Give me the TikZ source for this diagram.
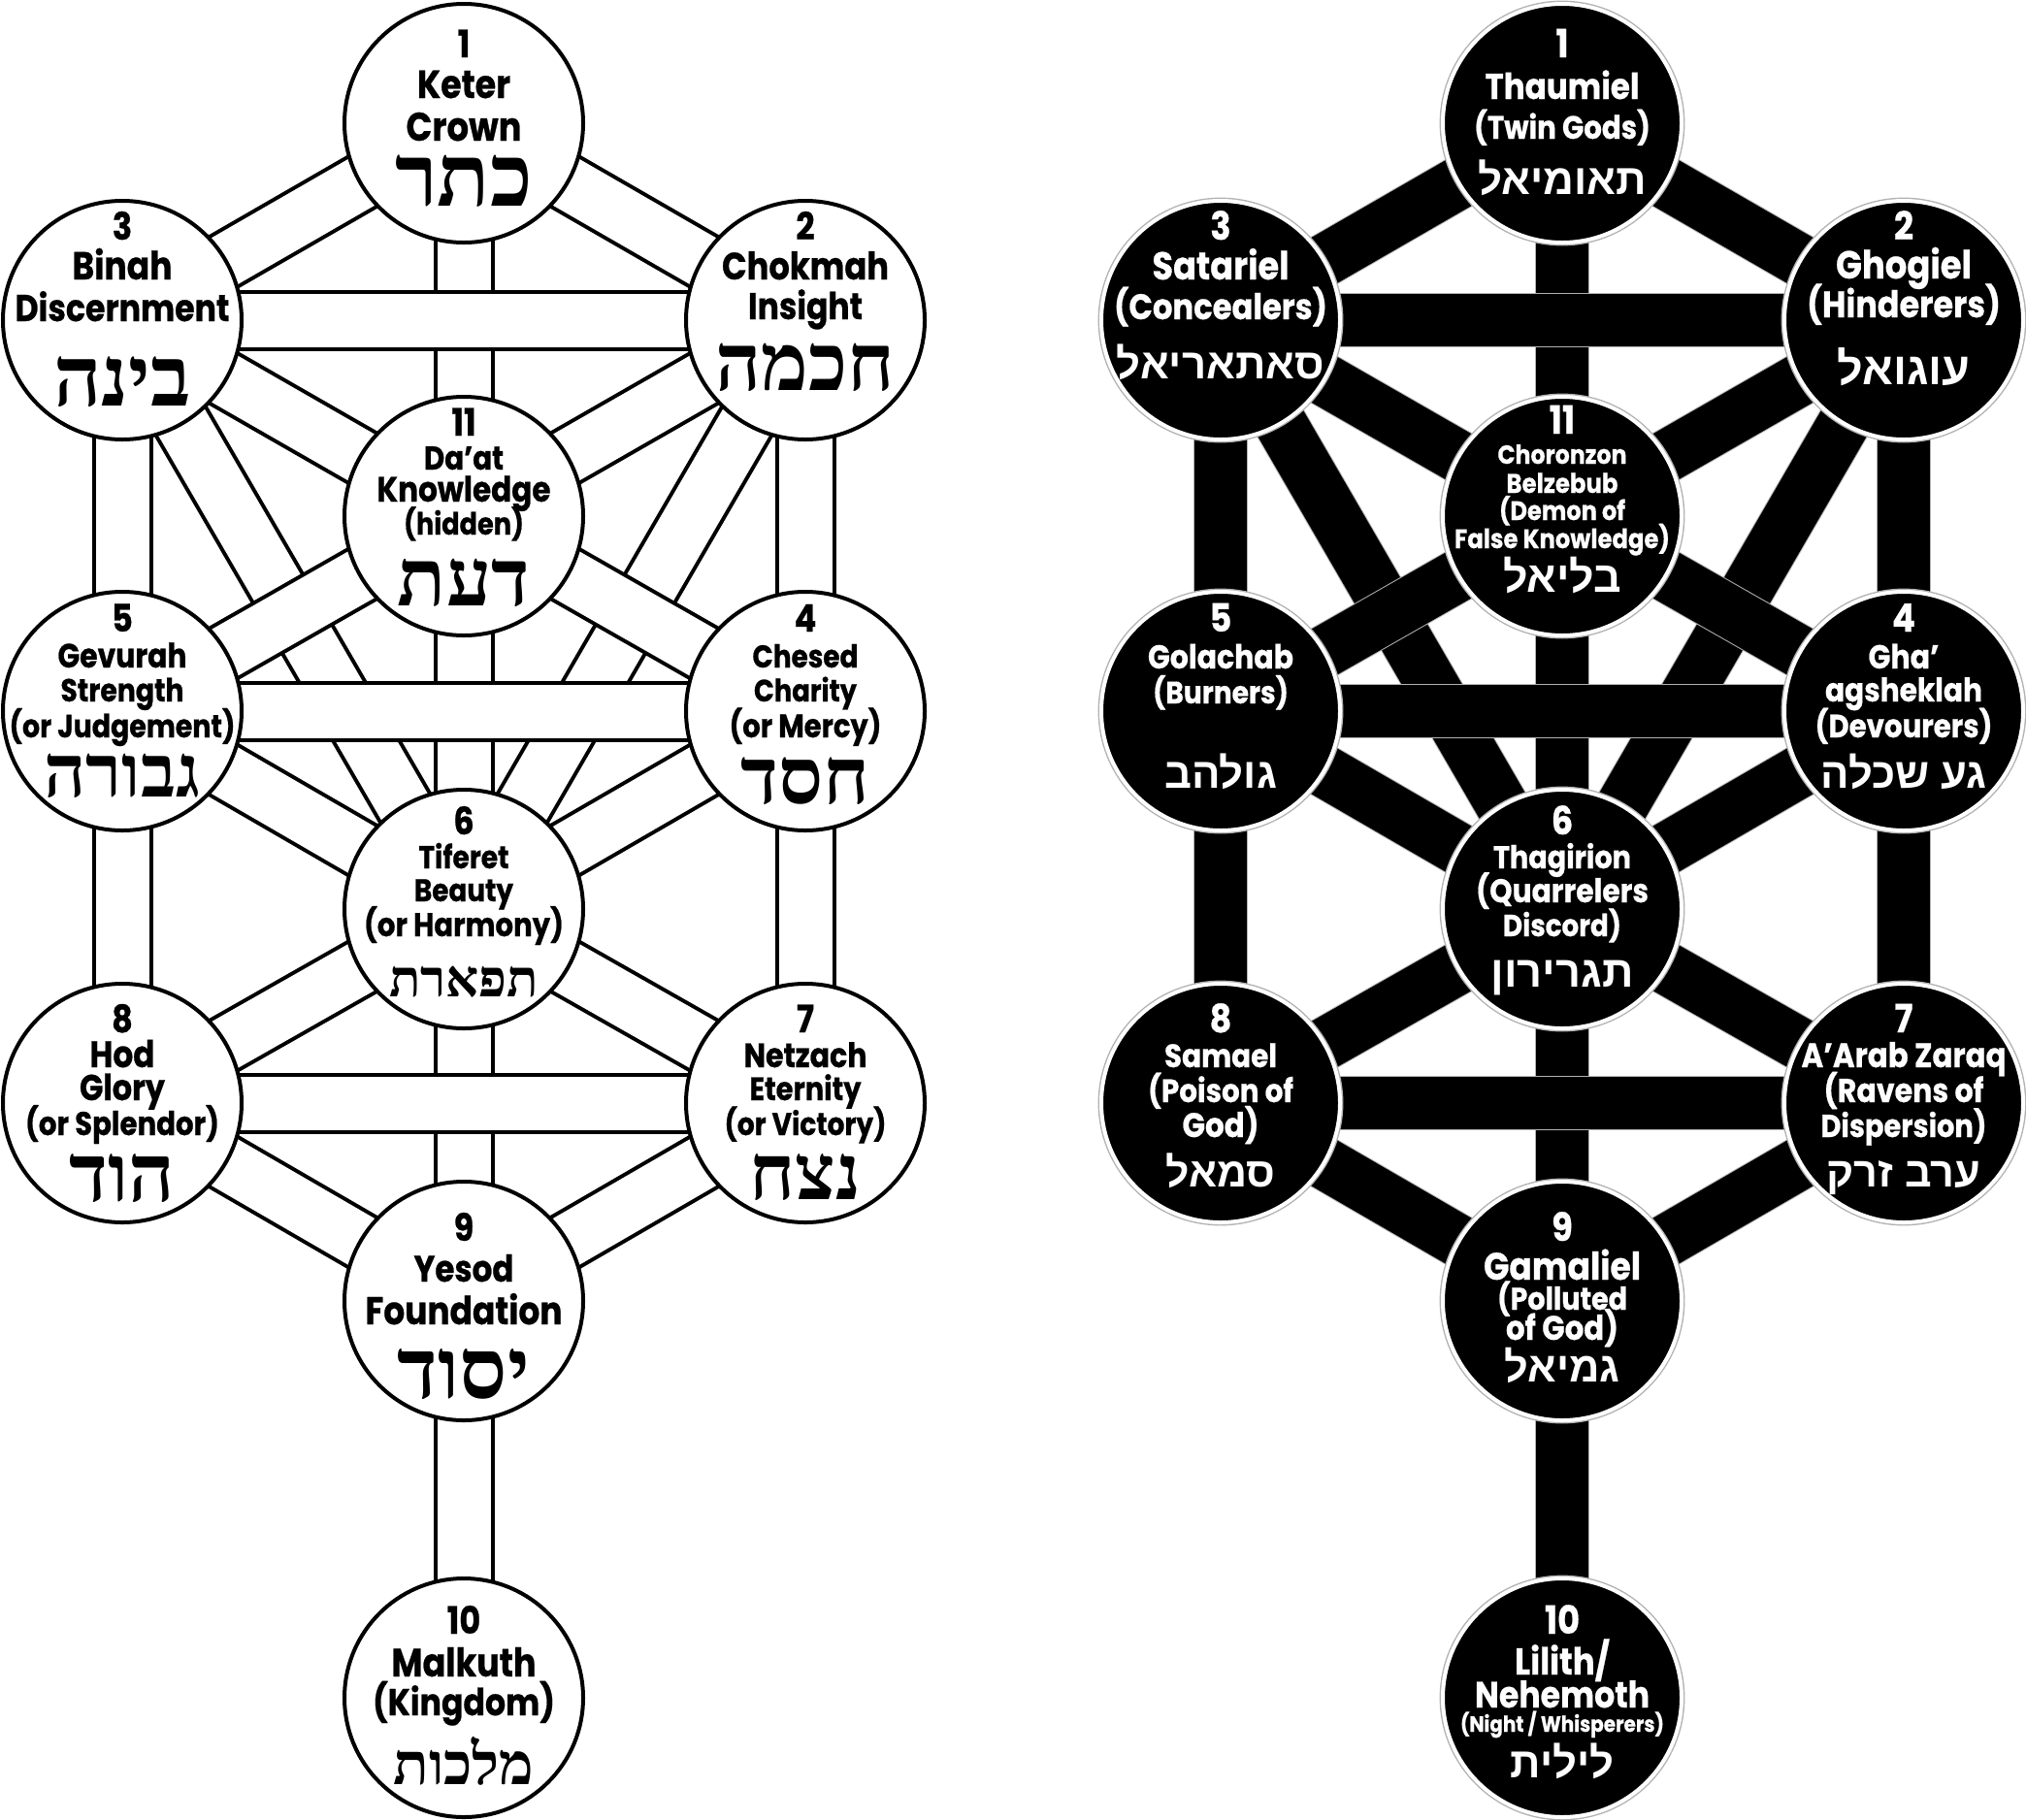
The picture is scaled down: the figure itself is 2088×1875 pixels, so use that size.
\documentclass[tikz,border=0pt]{standalone}
\usepackage{graphicx}
\usepackage{fontspec}
\setmainfont{Poppins}
\newfontfamily\lfont{Poppins}[FakeStretch=0.86, BoldFeatures={FakeBold=0.6}]
\newfontfamily\rfont{Poppins}[FakeStretch=0.88, BoldFeatures={FakeBold=0.6}]
\newfontfamily\hebserif{Liberation Serif}[Script=Hebrew]
\newfontfamily\hebsans{Liberation Sans}[Script=Hebrew]
\TeXXeTstate=1
\newlength\pxu \setlength\pxu{0.5pt}
\newcommand\LW[2]{\resizebox{#1\pxu}{!}{\lfont\bfseries #2}}
\newcommand\LN[1]{{\lfont\bfseries\fontsize{19.5pt}{19.5pt}\selectfont #1}}
\newcommand\LH[2]{\resizebox{#1\pxu}{!}{\hebserif\bfseries #2}}
\newcommand\RW[2]{\resizebox{#1\pxu}{!}{\rfont\bfseries #2}}
\newcommand\RN[1]{{\rfont\bfseries\fontsize{20pt}{20pt}\selectfont #1}}
\newcommand\RH[2]{\resizebox{#1\pxu}{!}{\hebsans\bfseries #2}}
\pgfdeclarelayer{bg}
\pgfsetlayers{bg,main}
\tikzset{
  lcirc/.style={circle, draw=black, fill=white, line width=2pt, minimum size=123pt, inner sep=0pt},
  rcirc/.style={circle, fill=black, draw=white, line width=2pt, minimum size=123pt, inner sep=0pt,
    preaction={draw=black!30, line width=3.4pt}},
  lbo/.style={line width=31.5pt, black},
  lbi/.style={line width=27.5pt, white},
  rbo/.style={line width=28pt, black!30},
  rbi/.style={line width=27pt, black},
  lt/.style={anchor=base, inner sep=0pt, text=black},
  rt/.style={anchor=base, inner sep=0pt, text=white},
}
\begin{document}
\begin{tikzpicture}[x=0.5pt, y=-0.5pt]
\useasboundingbox (0,0) rectangle (2088,1875);
% ---------- left tree circles ----------
\node[lcirc] (L1) at (478,127) {};
\node[lcirc] (L3) at (126,330) {};
\node[lcirc] (L2) at (830,330) {};
\node[lcirc] (L11) at (478,532) {};
\node[lcirc] (L5) at (126,733) {};
\node[lcirc] (L4) at (830,733) {};
\node[lcirc] (L6) at (478,937) {};
\node[lcirc] (L8) at (126,1137) {};
\node[lcirc] (L7) at (830,1137) {};
\node[lcirc] (L9) at (478,1341) {};
\node[lcirc] (L10) at (478,1750) {};
% ---------- right tree circles ----------
\node[rcirc] (R1) at (1610,127) {};
\node[rcirc] (R3) at (1258,330) {};
\node[rcirc] (R2) at (1962,330) {};
\node[rcirc] (R11) at (1610,532) {};
\node[rcirc] (R5) at (1258,733) {};
\node[rcirc] (R4) at (1962,733) {};
\node[rcirc] (R6) at (1610,937) {};
\node[rcirc] (R8) at (1258,1137) {};
\node[rcirc] (R7) at (1962,1137) {};
\node[rcirc] (R9) at (1610,1341) {};
\node[rcirc] (R10) at (1610,1750) {};
% ---------- paths ----------
\begin{pgfonlayer}{bg}
\foreach \a/\b in {L3/L6, L2/L6, L1/L11, L11/L6, L6/L9, L9/L10, L3/L5, L5/L8, L2/L4, L4/L7,
  L1/L3, L1/L2, L3/L11, L2/L11, L5/L11, L4/L11, L5/L6, L4/L6, L8/L6, L7/L6, L8/L9, L7/L9,
  L3/L2, L5/L4, L8/L7}
  {\draw[lbo] (\a.center) -- (\b.center); \draw[lbi] (\a.center) -- (\b.center);}
\foreach \a/\b in {R3/R6, R2/R6, R1/R11, R11/R6, R6/R9, R9/R10, R3/R5, R5/R8, R2/R4, R4/R7,
  R1/R3, R1/R2, R3/R11, R2/R11, R5/R11, R4/R11, R5/R6, R4/R6, R8/R6, R7/R6, R8/R9, R7/R9,
  R3/R2, R5/R4, R8/R7}
  {\draw[rbo] (\a.center) -- (\b.center); \draw[rbi] (\a.center) -- (\b.center);}
\end{pgfonlayer}
% ---------- left texts ----------
\node[lt] (l1n) at (478,59) {\LN{1}};
\node[lt] (l1a) at (478,101) {\LW{96}{Keter}};
\node[lt] (l1b) at (478,145) {\LW{119}{Crown}};
\node[lt] (l1h) at (478,212) {\LH{142}{\beginR כתר\endR}};
\node[lt] (l3n) at (126,247) {\LN{3}};
\node[lt] (l3a) at (126,288) {\LW{103}{Binah}};
\node[lt] (l3b) at (126,331) {\LW{221}{Discernment}};
\node[lt] (l3h) at (126,418) {\LH{142}{\beginR בינה\endR}};
\node[lt] (l2n) at (830,247) {\LN{2}};
\node[lt] (l2a) at (830,288) {\LW{172}{Chokmah}};
\node[lt] (l2b) at (830,329) {\LW{118}{Insight}};
\node[lt] (l2h) at (830,402) {\LH{185}{\beginR חכמה\endR}};
\node[lt] (l11n) at (478,449) {\LN{11}};
\node[lt] (l11a) at (478,484) {\LW{82}{Da’at}};
\node[lt] (l11b) at (478,517) {\LW{179}{Knowledge}};
\node[lt] (l11c) at (478,551) {\LW{124}{(hidden)}};
\node[lt] (l11h) at (478,624) {\LH{136}{\beginR דעת\endR}};
\node[lt] (l5n) at (126,651) {\LN{5}};
\node[lt] (l5a) at (126,688) {\LW{133}{Gevurah}};
\node[lt] (l5b) at (126,723) {\LW{127}{Strength}};
\node[lt] (l5c) at (126,760) {\LW{233}{(or Judgement)}};
\node[lt] (l5h) at (126,821) {\LH{161}{\beginR גבורה\endR}};
\node[lt] (l4n) at (830,651) {\LN{4}};
\node[lt] (l4a) at (830,688) {\LW{109}{Chesed}};
\node[lt] (l4b) at (830,723) {\LW{106}{Charity}};
\node[lt] (l4c) at (830,760) {\LW{157}{(or Mercy)}};
\node[lt] (l4h) at (830,828) {\LH{133}{\beginR חסד\endR}};
\node[lt] (l6n) at (478,860) {\LN{6}};
\node[lt] (l6a) at (478,895) {\LW{93}{Tiferet}};
\node[lt] (l6b) at (478,929) {\LW{102}{Beauty}};
\node[lt] (l6c) at (478,965) {\LW{206}{(or Harmony)}};
\node[lt] (l6h) at (478,1027) {\LH{154}{\beginR תפארת\endR}};
\node[lt] (l8n) at (126,1064) {\LN{8}};
\node[lt] (l8a) at (126,1100) {\LW{67}{Hod}};
\node[lt] (l8b) at (126,1134) {\LW{88}{Glory}};
\node[lt] (l8c) at (126,1170) {\LW{200}{(or Splendor)}};
\node[lt] (l8h) at (126,1238) {\LH{109}{\beginR הוד\endR}};
\node[lt] (l7n) at (830,1064) {\LN{7}};
\node[lt] (l7a) at (830,1100) {\LW{127}{Netzach}};
\node[lt] (l7b) at (830,1134) {\LW{115}{Eternity}};
\node[lt] (l7c) at (830,1170) {\LW{167}{(or Victory)}};
\node[lt] (l7h) at (830,1236) {\LH{115}{\beginR נצח\endR}};
\node[lt] (l9n) at (478,1279) {\LN{9}};
\node[lt] (l9a) at (478,1321) {\LW{103}{Yesod}};
\node[lt] (l9b) at (478,1365) {\LW{203}{Foundation}};
\node[lt] (l9h) at (478,1441) {\LH{136}{\beginR יסוד\endR}};
\node[lt] (l10n) at (478,1684) {\LN{10}};
\node[lt] (l10a) at (478,1728) {\LW{149}{Malkuth}};
\node[lt] (l10b) at (478,1768) {\LW{188}{(Kingdom)}};
\node[lt] (l10h) at (478,1839) {\LH{145}{\beginR מלכות\endR}};
% ---------- right texts ----------
\node[rt] (r1n) at (1610,59) {\RN{1}};
\node[rt] (r1a) at (1610,102) {\RW{159}{Thaumiel}};
\node[rt] (r1b) at (1610,143) {\RW{182}{(Twin Gods)}};
\node[rt] (r1h) at (1610,200) {\RH{174}{\beginR תאומיאל\endR}};
\node[rt] (r3n) at (1258,247) {\RN{3}};
\node[rt] (r3a) at (1258,288) {\RW{141}{Satariel}};
\node[rt] (r3b) at (1258,329) {\RW{220}{(Concealers)}};
\node[rt] (r3h) at (1258,390) {\RH{214}{\beginR סאתאריאל\endR}};
\node[rt] (r2n) at (1962,247) {\RN{2}};
\node[rt] (r2a) at (1962,287) {\RW{140}{Ghogiel}};
\node[rt] (r2b) at (1962,327) {\RW{200}{(Hinderers)}};
\node[rt] (r2h) at (1962,396) {\RH{137}{\beginR עוגואל\endR}};
\node[rt] (r11n) at (1610,447) {\RN{11}};
\node[rt] (r11a) at (1610,478) {\RW{133}{Choronzon}};
\node[rt] (r11b) at (1610,508) {\RW{115}{Belzebub}};
\node[rt] (r11c) at (1610,536) {\RW{130}{(Demon of}};
\node[rt] (r11d) at (1610,565) {\RW{222}{False Knowledge)}};
\node[rt] (r11h) at (1610,610) {\RH{122}{\beginR בליאל\endR}};
\node[rt] (r5n) at (1258,651) {\RN{5}};
\node[rt] (r5a) at (1258,689) {\RW{150}{Golachab}};
\node[rt] (r5b) at (1258,725) {\RW{140}{(Burners)}};
\node[rt] (r5h) at (1258,812) {\RH{116}{\beginR גולהב\endR}};
\node[rt] (r4n) at (1962,651) {\RN{4}};
\node[rt] (r4a) at (1962,689) {\RW{73}{Gha’}};
\node[rt] (r4b) at (1962,723) {\RW{162}{agsheklah}};
\node[rt] (r4c) at (1962,760) {\RW{183}{(Devourers)}};
\node[rt] (r4h) at (1962,812) {\RH{171}{\beginR גע שכלה\endR}};
\node[rt] (r6n) at (1610,860) {\RN{6}};
\node[rt] (r6a) at (1610,895) {\RW{142}{Thagirion}};
\node[rt] (r6b) at (1610,930) {\RW{178}{(Quarrelers}};
\node[rt] (r6c) at (1610,965) {\RW{122}{Discord)}};
\node[rt] (r6h) at (1610,1017) {\RH{147}{\beginR תגרירון\endR}};
\node[rt] (r8n) at (1258,1064) {\RN{8}};
\node[rt] (r8a) at (1258,1100) {\RW{116}{Samael}};
\node[rt] (r8b) at (1258,1136) {\RW{150}{(Poison of}};
\node[rt] (r8c) at (1258,1172) {\RW{79}{God)}};
\node[rt] (r8h) at (1258,1223) {\RH{113}{\beginR סמאל\endR}};
\node[rt] (r7n) at (1962,1064) {\RN{7}};
\node[rt] (r7a) at (1962,1100) {\RW{211}{A’Arab Zaraq}};
\node[rt] (r7b) at (1962,1136) {\RW{165}{(Ravens of}};
\node[rt] (r7c) at (1962,1172) {\RW{171}{Dispersion)}};
\node[rt] (r7h) at (1962,1223) {\RH{159}{\beginR ערב זרק\endR}};
\node[rt] (r9n) at (1610,1279) {\RN{9}};
\node[rt] (r9a) at (1610,1319) {\RW{162}{Gamaliel}};
\node[rt] (r9b) at (1610,1350) {\RW{134}{(Polluted}};
\node[rt] (r9c) at (1610,1381) {\RW{116}{of God)}};
\node[rt] (r9h) at (1610,1424) {\RH{119}{\beginR גמיאל\endR}};
\node[rt] (r10n) at (1610,1684) {\RN{10}};
\node[rt] (r10a) at (1610,1726) {\RW{98}{Lilith/}};
\node[rt] (r10b) at (1610,1760) {\RW{180}{Nehemoth}};
\node[rt] (r10c) at (1610,1785) {\RW{210}{(Night / Whisperers)}};
\node[rt] (r10h) at (1610,1832) {\RH{107}{\beginR לילית\endR}};
\end{tikzpicture}
\end{document}
